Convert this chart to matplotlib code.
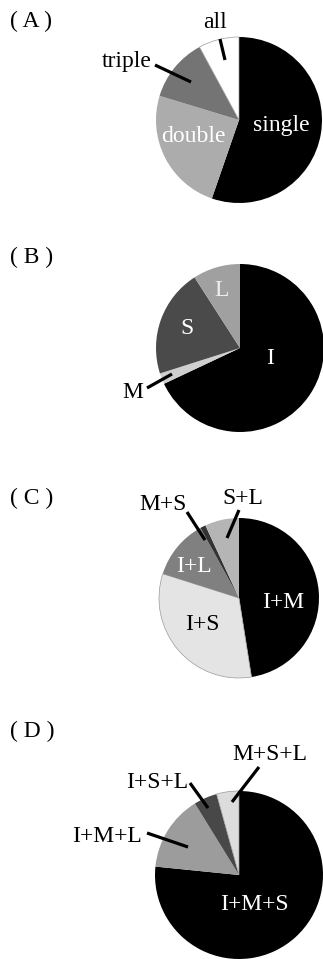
import matplotlib

matplotlib.use("Agg")
import matplotlib.pyplot as plt

# panel data: slice labels / percentages, clockwise from 12 o'clock
A_LABELS = ["single", "double", "triple", "all"]
A_VALUES = [55.3, 24.4, 12.4, 7.9]
B_LABELS = ["I", "M", "S", "L"]
B_VALUES = [68.0, 2.1, 20.8, 9.1]
C_LABELS = ["I+M", "I+S", "I+L", "M+S", "S+L"]
C_VALUES = [47.5, 32.4, 12.1, 1.1, 6.9]
D_LABELS = ["I+M+S", "I+M+L", "I+S+L", "M+S+L"]
D_VALUES = [76.6, 14.6, 4.5, 4.3]

A_COLORS = ["#000000", "#acacac", "#747474", "#ffffff"]
B_COLORS = ["#000000", "#cfcfcf", "#4a4a4a", "#a0a0a0"]
C_COLORS = ["#000000", "#e4e4e4", "#808080", "#333333", "#b5b5b5"]
D_COLORS = ["#000000", "#9c9c9c", "#484848", "#dcdcdc"]

W, H = 323, 959  # pixel layout, y measured from the top

# layout: (tag, tag_y, center, radius, labels, values, colors, texts)
# texts: label -> (x, y, color, leader or None)
PANELS = [
    ("( A )", 21, (239, 120), 83, A_LABELS, A_VALUES, A_COLORS, {
        "single": (281, 126, "white", None),
        "double": (193, 137, "white", None),
        "triple": (127, 61, "black", ((155, 65), (191, 82))),
        "all": (215, 23, "black", ((220, 39), (225, 60))),
    }),
    ("( B )", 257, (240, 348), 84, B_LABELS, B_VALUES, B_COLORS, {
        "I": (270, 359, "white", None),
        "M": (133, 392, "black", ((147, 388), (172, 374))),
        "S": (187, 328, "white", None),
        "L": (222, 291, "#eeeeee", None),
    }),
    ("( C )", 498, (239, 598), 80, C_LABELS, C_VALUES, C_COLORS, {
        "I+M": (283, 603, "white", None),
        "I+S": (202, 624, "black", None),
        "I+L": (194, 567, "white", None),
        "M+S": (163, 505, "black", ((187, 512), (205, 540))),
        "S+L": (243, 498, "black", ((239, 510), (227, 538))),
    }),
    ("( D )", 731, (239, 875), 84, D_LABELS, D_VALUES, D_COLORS, {
        "I+M+S": (254, 905, "white", None),
        "I+M+L": (107, 836, "black", ((147, 833), (188, 847))),
        "I+S+L": (157, 783, "black", ((190, 783), (208, 808))),
        "M+S+L": (270, 754, "black", ((259, 767), (232, 802))),
    }),
]

FONT = "Liberation Serif"
FS = 17


def main():
    fig = plt.figure(figsize=(W / 100, H / 100), dpi=100)
    ax = fig.add_axes([0, 0, 1, 1])

    for tag, tag_y, (cx, cy), r, labels, values, colors, texts in PANELS:
        wedges, _ = ax.pie(
            values,
            colors=colors,
            startangle=90,
            counterclock=False,
            center=(cx, H - cy),
            radius=r,
            wedgeprops=dict(linewidth=0),
        )
        for w, c in zip(wedges, colors):
            if c in ("#ffffff", "#e4e4e4", "#dcdcdc"):
                w.set_edgecolor("#9a9a9a")
                w.set_linewidth(0.5)
        ax.text(10, H - tag_y, tag, fontsize=FS, family=FONT,
                ha="left", va="center")
        for lab in labels:
            tx, ty, col, leader = texts[lab]
            ax.text(tx, H - ty, lab, fontsize=FS, family=FONT, color=col,
                    ha="center", va="center")
            if leader:
                (x0, y0), (x1, y1) = leader
                ax.plot([x0, x1], [H - y0, H - y1], color="black",
                        linewidth=2.3, solid_capstyle="butt")

    ax.set_xlim(0, W)
    ax.set_ylim(0, H)
    ax.set_aspect("equal")
    ax.axis("off")
    fig.savefig("out.png", dpi=100)


if __name__ == "__main__":
    main()
